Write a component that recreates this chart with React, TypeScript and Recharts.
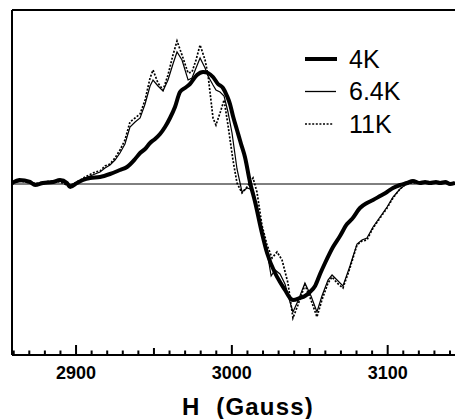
import React from 'react';
import { LineChart, Line, XAxis, YAxis, ReferenceLine, Legend } from 'recharts';

// Magnetic field (Gauss) sample positions and EPR derivative signal (arb. units) per temperature
const field4K = [2858.9, 2863.5, 2870.5, 2873.7, 2878.8, 2885.2, 2889.7, 2894.2, 2896.2, 2900.6, 2904.5, 2909.0, 2915.4, 2921.8, 2928.2, 2932.7, 2937.9, 2941.1, 2944.3, 2947.5, 2950.7, 2953.9, 2957.1, 2960.3, 2963.5, 2966.7, 2969.9, 2973.1, 2977.6, 2981.5, 2984.7, 2987.9, 2991.1, 2994.3, 2996.9, 2998.8, 3000.7, 3003.3, 3005.9, 3008.4, 3011.6, 3014.9, 3019.3, 3022.6, 3027.7, 3030.9, 3034.1, 3037.3, 3039.2, 3043.7, 3046.9, 3050.1, 3053.4, 3056.6, 3059.8, 3064.9, 3069.4, 3073.9, 3077.1, 3082.2, 3086.7, 3090.6, 3095.1, 3099.6, 3103.4, 3107.9, 3112.4, 3116.2, 3120.7, 3124.0, 3127.1, 3131.0, 3133.6, 3137.0, 3140.0, 3143.2];
const signal4K = [1, 4, 2, -1, 1, 2, 4, 1, -3, 1, 4, 6, 7, 10, 14, 17, 25, 31, 35, 41, 45, 50, 57, 66, 77, 92, 96, 100, 109, 112, 111, 107, 100, 96, 88, 80, 68, 54, 40, 27, 2, -18, -49, -69, -89, -98, -106, -114, -116, -114, -112, -108, -102, -90, -79, -63, -52, -40, -35, -24, -19, -16, -12, -8, -4, -1, 1, 3, 1, 2, 1, 2, 1, 2, 0, 1];

const field64K = [2858.9, 2863.5, 2868.0, 2873.7, 2878.8, 2885.2, 2889.7, 2894.2, 2896.2, 2900.6, 2905.8, 2912.2, 2915.4, 2918.6, 2921.8, 2925.0, 2928.2, 2931.4, 2934.6, 2937.9, 2941.1, 2944.3, 2947.5, 2949.4, 2952.6, 2955.8, 2959.0, 2962.2, 2964.8, 2968.0, 2971.9, 2974.4, 2977.0, 2979.6, 2982.8, 2984.7, 2987.9, 2989.8, 2992.4, 2995.0, 2997.5, 3000.1, 3003.3, 3006.5, 3009.7, 3013.6, 3016.1, 3019.3, 3022.6, 3025.2, 3027.7, 3030.9, 3034.1, 3037.3, 3039.2, 3042.4, 3046.9, 3050.8, 3054.6, 3057.8, 3061.7, 3064.3, 3067.5, 3071.3, 3075.8, 3080.3, 3083.5, 3086.7, 3090.6, 3095.1, 3099.6, 3103.4, 3107.9, 3111.1, 3114.3, 3120.7, 3127.1, 3133.6, 3140.0, 3143.2];
const signal64K = [1, 2, 3, 1, 0, 2, 3, 0, -1, 2, 6, 10, 12, 16, 19, 24, 31, 40, 57, 62, 66, 80, 98, 104, 98, 93, 104, 120, 132, 124, 104, 106, 116, 126, 116, 108, 99, 94, 92, 88, 72, 51, 15, -8, -4, -6, -22, -46, -68, -92, -86, -90, -100, -118, -128, -117, -99, -112, -128, -112, -96, -91, -96, -102, -82, -60, -56, -54, -43, -33, -23, -13, -5, -1, 1, 2, 1, 2, 1, 1];

const field11K = [2858.9, 2863.5, 2868.0, 2873.7, 2878.8, 2885.2, 2889.7, 2894.2, 2896.2, 2900.6, 2905.8, 2912.2, 2915.4, 2918.6, 2921.8, 2925.0, 2928.2, 2931.4, 2934.6, 2937.9, 2941.1, 2944.3, 2947.5, 2949.4, 2952.6, 2955.8, 2959.0, 2962.2, 2964.8, 2968.0, 2971.9, 2974.4, 2977.0, 2979.6, 2982.8, 2984.7, 2987.9, 2989.8, 2992.4, 2995.0, 2997.5, 3000.7, 3003.3, 3006.5, 3009.7, 3013.6, 3016.1, 3019.3, 3022.6, 3025.8, 3029.0, 3032.2, 3036.0, 3039.2, 3042.4, 3046.9, 3050.8, 3054.6, 3057.8, 3061.7, 3064.3, 3067.5, 3071.3, 3075.8, 3080.3, 3083.5, 3086.7, 3090.6, 3095.1, 3099.6, 3103.4, 3107.9, 3111.1, 3114.3, 3120.7, 3127.1, 3133.6, 3140.0, 3143.2];
const signal11K = [0, 3, 2, 0, 2, 3, 2, -1, -2, 2, 7, 12, 13, 18, 20, 26, 34, 44, 62, 66, 70, 84, 106, 114, 101, 94, 109, 129, 143, 129, 111, 112, 124, 139, 124, 109, 66, 59, 71, 84, 59, 24, 1, -9, -3, 6, -8, -41, -61, -74, -68, -76, -99, -134, -121, -101, -116, -133, -116, -99, -93, -99, -104, -84, -61, -57, -56, -44, -34, -24, -14, -5, -1, 1, 1, 2, 1, 1, 1];

const seriesNames = ['4K', '6.4K', '11K'];
const tickValues = [2860, 2870, 2880, 2890, 2900, 2910, 2920, 2930, 2940, 2950, 2960, 2970, 2980, 2990, 3000, 3010, 3020, 3030, 3040, 3050, 3060, 3070, 3080, 3090, 3100, 3110, 3120, 3130, 3140];
const labelTicks = [2900, 3000, 3100];
const xDomain = [2858.9, 3143.2];
const yDomain = [-171, 174];

const data4K = field4K.map((h, i) => ({ h, v: signal4K[i] }));
const data64K = field64K.map((h, i) => ({ h, v: signal64K[i] }));
const data11K = field11K.map((h, i) => ({ h, v: signal11K[i] }));

const FONT = '"Liberation Sans", Arial, Helvetica, sans-serif';
// inward tick mark length, in y units (1 unit = 1 px with this domain)
const tickLen = (v: number) => (v % 100 === 0 ? 10 : v % 50 === 0 ? 7 : 4.5);
// tick marks as short broken segments, placed through the chart's own scales
const tickMarkData = tickValues.flatMap((t) => [
  { h: t, v: yDomain[0] },
  { h: t, v: yDomain[0] + tickLen(t) },
  { h: t, v: null as number | null },
]);

const AxisTick = (props: any) => {
  const { x, y, payload } = props;
  return (
    <text x={x} y={y + 24} textAnchor="middle" fontFamily={FONT} fontWeight="bold" fontSize={18} fill="#000">
      {payload.value}
    </text>
  );
};

const AxisTitle = (props: any) => {
  const { viewBox } = props;
  const y = viewBox.y + viewBox.height - 4;
  return (
    <text x={248} y={y} textAnchor="middle" fontFamily={FONT} fontWeight="bold" fontSize={24} letterSpacing={1.2} fill="#000" style={{ whiteSpace: 'pre' }}>
      {'H  (Gauss)'}
    </text>
  );
};

const LegendContent = () => {
  const rows = [
    { name: seriesNames[0], width: 4, dash: undefined as string | undefined, len: 32 },
    { name: seriesNames[1], width: 1.3, dash: undefined, len: 31 },
    { name: seriesNames[2], width: 1.6, dash: '2 1.6', len: 28 },
  ];
  return (
    <svg width={140} height={110} style={{ display: 'block' }}>
      {rows.map((r, i) => (
        <g key={r.name}>
          <line x1={5} x2={5 + r.len} y1={19 + i * 32.5} y2={19 + i * 32.5} stroke="#000" strokeWidth={r.width} strokeDasharray={r.dash} />
          <text x={49} y={28 + i * 32.3} fontFamily={FONT} fontSize={25} fill="#000">
            {r.name}
          </text>
        </g>
      ))}
    </svg>
  );
};

export default function App() {
  return (
    <div style={{ position: 'absolute', left: 0, top: 0, width: 455, height: 419, background: '#fff' }}>
      <LineChart width={455} height={419} margin={{ top: 10, right: 0, left: 12, bottom: 0 }}>
        <XAxis
          dataKey="h"
          type="number"
          domain={xDomain}
          allowDataOverflow
          ticks={labelTicks}
          interval={0}
          tickSize={0}
          tickMargin={0}
          tickLine={false}
          tick={<AxisTick />}
          axisLine={{ stroke: '#000', strokeWidth: 2 }}
          height={64}
          label={<AxisTitle />}
        />
        <YAxis type="number" domain={yDomain} allowDataOverflow hide />
        <ReferenceLine y={0} stroke="#000" strokeWidth={1} />
        <ReferenceLine y={yDomain[1]} stroke="#000" strokeWidth={2} />
        <ReferenceLine x={xDomain[0]} stroke="#000" strokeWidth={2} />
        <Legend
          layout="vertical"
          align="center"
          verticalAlign="middle"
          content={<LegendContent />}
          wrapperStyle={{ position: 'absolute', left: 300, top: 40, width: 140, height: 110 }}
        />
        <Line data={tickMarkData} dataKey="v" name="ticks" legendType="none" type="linear" connectNulls={false} stroke="#000" strokeWidth={2} dot={false} activeDot={false} isAnimationActive={false} />
        <Line data={data64K} dataKey="v" name={seriesNames[1]} type="linear" stroke="#000" strokeWidth={1.2} dot={false} isAnimationActive={false} />
        <Line data={data11K} dataKey="v" name={seriesNames[2]} type="linear" stroke="#000" strokeWidth={1.7} strokeDasharray="2 1.6" dot={false} isAnimationActive={false} />
        <Line data={data4K} dataKey="v" name={seriesNames[0]} type="monotone" stroke="#000" strokeWidth={4} dot={false} isAnimationActive={false} />
      </LineChart>
    </div>
  );
}
